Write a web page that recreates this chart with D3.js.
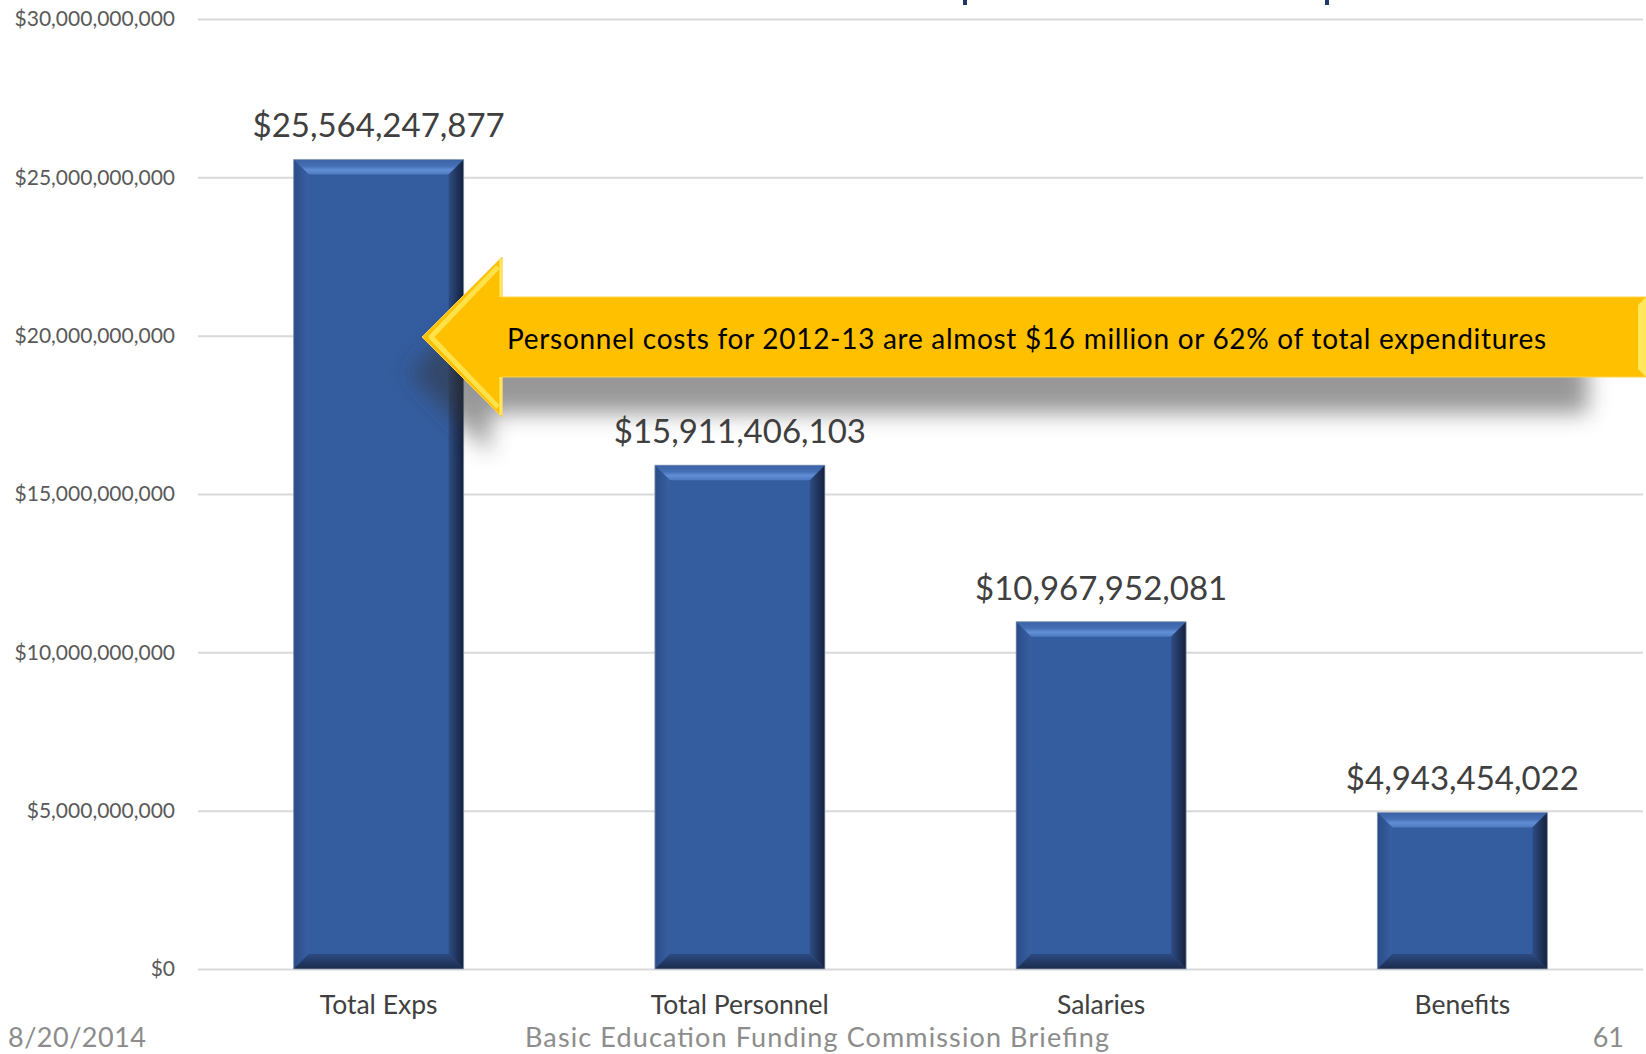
<!DOCTYPE html>
<html>
<head>
<meta charset="utf-8">
<script src="https://cdn.jsdelivr.net/npm/d3@7"></script>
<style>
  html, body { margin: 0; padding: 0; background: #fff; }
  svg { display: block; font-family: Lato, "Open Sans", sans-serif; }
</style>
</head>
<body>
<svg id="chart" width="1646" height="1054"></svg>
<script>
// Spending categories, 2012-13
const categories = ["Total Exps", "Total Personnel", "Salaries", "Benefits"];
const amounts = [25564247877, 15911406103, 10967952081, 4943454022];
const tickValues = [0, 5e9, 10e9, 15e9, 20e9, 25e9, 30e9];
const calloutText = "Personnel costs for 2012-13 are almost $16 million or 62% of total expenditures";
const footerDate = "8/20/2014";
const footerTitle = "Basic Education Funding Commission Briefing";
const pageNumber = "61";

const W = 1646, H = 1054;
const svg = d3.select("#chart");
const defs = svg.append("defs");

const x = d3.scaleBand().domain(categories).range([198, 1643])
  .paddingInner(0.5294).paddingOuter(0.2647);
const y = d3.scaleLinear().domain([0, 30e9]).range([969, 19]);
const money = d => "$" + d3.format(",")(d);

// gradients for the bevelled bar faces
function grad(id, x1, y1, x2, y2, stops) {
  const g = defs.append("linearGradient").attr("id", id)
    .attr("x1", x1).attr("y1", y1).attr("x2", x2).attr("y2", y2);
  stops.forEach(([o, c]) => g.append("stop").attr("offset", o).attr("stop-color", c));
}
grad("bevTop", 0, 0, 0, 1, [[0, "#3A62A4"], [0.45, "#4670B6"], [0.7, "#618FD6"], [1, "#4C79C0"]]);
grad("bevLeft", 0, 0, 1, 0, [[0, "#2A4C88"], [1, "#3860A2"]]);
grad("bevRight", 0, 0, 1, 0, [[0, "#2E4D84"], [1, "#15213C"]]);
grad("bevBottom", 0, 0, 0, 1, [[0, "#2C4B82"], [1, "#1B2B4C"]]);

// blur used for the callout's cast shadow
defs.append("filter").attr("id", "shadowBlur")
  .attr("x", "-20%").attr("y", "-50%").attr("width", "140%").attr("height", "200%")
  .append("feGaussianBlur").attr("stdDeviation", 11);

// horizontal gridlines
svg.append("g")
  .attr("transform", "translate(198,0)")
  .call(d3.axisLeft(y).tickValues(tickValues).tickSize(-(1643 - 198)).tickFormat(""))
  .call(g => g.select(".domain").remove())
  .call(g => g.selectAll(".tick line").attr("stroke", "#D9D9D9").attr("stroke-width", 2));

// value axis labels
svg.append("g")
  .attr("transform", "translate(198,0)")
  .call(d3.axisLeft(y).tickValues(tickValues).tickSize(0).tickPadding(23).tickFormat(money))
  .call(g => g.select(".domain").remove())
  .call(g => g.selectAll(".tick text")
    .attr("fill", "#595959").attr("font-size", 21)
    .attr("font-family", "Lato, 'Open Sans', sans-serif"));

// bevelled bars
const bev = 15;
const bars = svg.append("g").selectAll("g").data(categories.map((c, i) => ({ c, v: amounts[i] })))
  .join("g");
bars.each(function (d) {
  const g = d3.select(this);
  const x0 = x(d.c), x1 = x0 + x.bandwidth();
  const y0 = y(d.v), y1 = y(0);
  g.append("rect").attr("x", x0).attr("y", y0).attr("width", x1 - x0).attr("height", y1 - y0)
    .attr("fill", "#345D9F");
  const poly = (pts, fill) => g.append("polygon")
    .attr("points", pts.map(p => p.join(",")).join(" ")).attr("fill", fill);
  poly([[x0, y0], [x1, y0], [x1 - bev, y0 + bev], [x0 + bev, y0 + bev]], "url(#bevTop)");
  poly([[x0, y0], [x0 + bev, y0 + bev], [x0 + bev, y1 - bev], [x0, y1]], "url(#bevLeft)");
  poly([[x1, y0], [x1, y1], [x1 - bev, y1 - bev], [x1 - bev, y0 + bev]], "url(#bevRight)");
  poly([[x0, y1], [x0 + bev, y1 - bev], [x1 - bev, y1 - bev], [x1, y1]], "url(#bevBottom)");
  g.append("rect").attr("x", x0).attr("y", y0).attr("width", x1 - x0).attr("height", y1 - y0)
    .attr("fill", "none").attr("stroke", "#9AA6BC").attr("stroke-width", 1).attr("stroke-opacity", 0.7);
});

// value labels above bars
svg.append("g").selectAll("text").data(categories.map((c, i) => ({ c, v: amounts[i] })))
  .join("text")
  .attr("x", d => x(d.c) + x.bandwidth() / 2)
  .attr("y", d => y(d.v) - 22)
  .attr("text-anchor", "middle")
  .attr("fill", "#404040").attr("font-size", 33)
  .text(d => money(d.v));

// category labels
svg.append("g").selectAll("text").data(categories).join("text")
  .attr("x", d => x(d) + x.bandwidth() / 2)
  .attr("y", 1014)
  .attr("text-anchor", "middle")
  .attr("fill", "#404040").attr("font-size", 26.5)
  .text(d => d);

// callout arrow pointing at the total bar
const tipX = 422, tipY = 337, headX = 502, headHalf = 80, bodyHalf = 40;
function arrowPath(endX) {
  return d3.line()([
    [tipX, tipY], [headX, tipY - headHalf], [headX, tipY - bodyHalf], [endX, tipY - bodyHalf],
    [endX, tipY + bodyHalf], [headX, tipY + bodyHalf], [headX, tipY + headHalf]
  ]) + "Z";
}
const callout = svg.append("g");
callout.append("path")
  .attr("d", arrowPath(1600))
  .attr("transform", "translate(-12,36)")
  .attr("fill", "#333").attr("opacity", 0.5)
  .attr("filter", "url(#shadowBlur)");
callout.append("path").attr("d", arrowPath(1652)).attr("fill", "#FFC000");
// light bevel along the arrow head and right end
callout.append("path")
  .attr("d", d3.line()([[headX - 4, tipY - headHalf + 10], [tipX + 9, tipY], [headX - 4, tipY + headHalf - 10]]))
  .attr("fill", "none").attr("stroke", "#FFE14A").attr("stroke-width", 5).attr("stroke-linejoin", "round");
callout.append("path")
  .attr("d", d3.line()([[headX - 1, tipY - headHalf + 2], [headX - 1, tipY - bodyHalf]]))
  .attr("stroke", "#FFEB70").attr("stroke-width", 3);
callout.append("path")
  .attr("d", d3.line()([[headX - 1, tipY + bodyHalf], [headX - 1, tipY + headHalf - 2]]))
  .attr("stroke", "#FFEB70").attr("stroke-width", 3);
callout.append("path")
  .attr("d", d3.line()([[1646, tipY - bodyHalf], [1638, tipY - bodyHalf + 8], [1638, tipY + bodyHalf - 8], [1646, tipY + bodyHalf]]))
  .attr("fill", "#FFE85C");
callout.append("path").attr("d", arrowPath(1652))
  .attr("fill", "none").attr("stroke", "#FFD24D").attr("stroke-width", 1);
callout.append("text")
  .attr("x", 507).attr("y", 349)
  .attr("fill", "#000").attr("font-size", 28)
  .attr("textLength", 1039)
  .text(calloutText);

// heading glyph tails at the top edge
svg.append("g").selectAll("rect").data([963, 1325]).join("rect")
  .attr("x", d => d).attr("y", 0).attr("width", 4).attr("height", 5).attr("fill", "#1F3864");

// footer band
svg.append("rect").attr("x", 0).attr("y", 1020).attr("width", W).attr("height", H - 1020).attr("fill", "#fff");
const footer = svg.append("g").attr("fill", "#8C8C8C").attr("font-size", 27);
footer.append("text").attr("x", 8).attr("y", 1047).attr("textLength", 138).text(footerDate);
footer.append("text").attr("x", 817).attr("y", 1047).attr("text-anchor", "middle")
  .attr("textLength", 584).text(footerTitle);
footer.append("text").attr("x", 1624).attr("y", 1047).attr("text-anchor", "end").text(pageNumber);
</script>
</body>
</html>
